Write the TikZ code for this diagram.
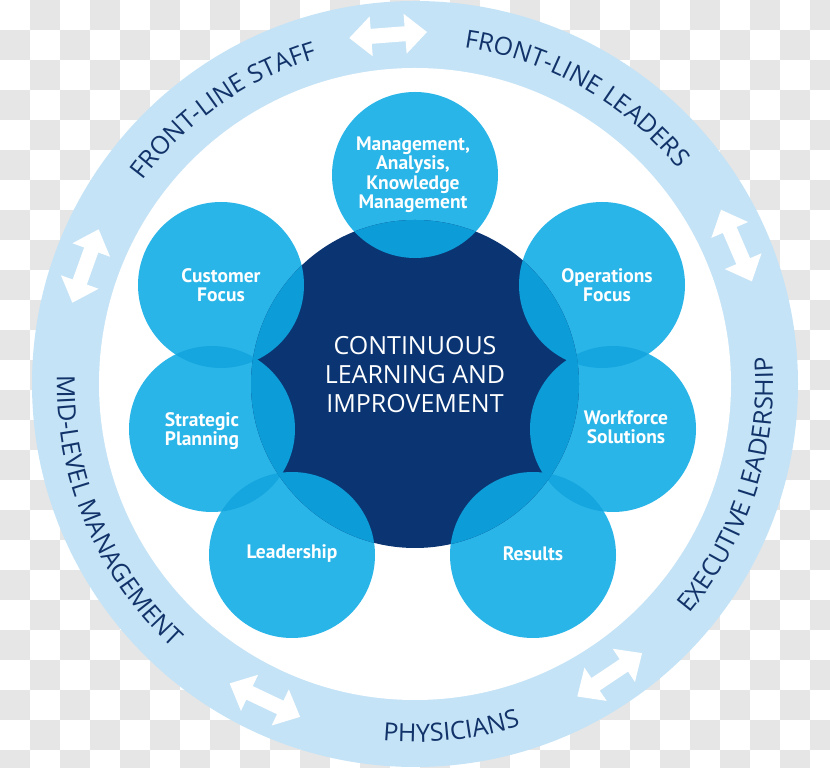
\documentclass[tikz,border=0pt]{standalone}
\usepackage{fontspec}
\setmainfont{Open Sans}
\newfontfamily\satfont{PT Sans}
\usetikzlibrary{decorations.text}
\definecolor{ringblue}{HTML}{C4E3F6}
\definecolor{satcyan}{HTML}{2AB5E8}
\definecolor{satlens}{HTML}{15A6E0}
\definecolor{hubdark}{HTML}{0B3572}
\definecolor{hublens}{HTML}{0C9CD8}
\definecolor{ringtext}{HTML}{12336A}
\definecolor{checkgray}{HTML}{E6E6E6}

\begin{document}
\begin{tikzpicture}[x=1pt,y=1pt,
lbl/.style={text=white,align=center,font=\satfont\bfseries\fontsize{19.5}{19.5}\selectfont},
hubtxt/.style={text=white,align=center,font=\fontsize{25}{29}\selectfont},
ringtxt/.style={decorate,decoration={text along path,text align=center,
  text={|\fontsize{25}{25}\selectfont\color{ringtext}|#1}}},
dblarrow/.pic={\fill[white] (-39,0)--(-17,20)--(-17,7.5)--(17,7.5)--(17,20)--(39,0)
  --(17,-20)--(17,-7.5)--(-17,-7.5)--(-17,-20)--cycle;}]
\useasboundingbox (0,0) rectangle (830,768);
% transparent backdrop
\begin{scope}
\clip (0,0) rectangle (830,768);
\foreach \i in {0,...,27}
  \foreach \j in {0,...,25}{
    \pgfmathtruncatemacro\odd{mod(\i+\j,2)}
    \ifnum\odd=1 \fill[checkgray] (30*\i,768-30*\j) rectangle ++(30,-30);\fi}
\end{scope}
% outer ring
\coordinate (hub) at (415,384);
\fill[ringblue] (hub) circle (383);
\fill[white] (hub) circle (316);
% circles
\coordinate (mgmt) at (415,593);
\coordinate (cust) at (221,483);
\coordinate (ops) at (602,483);
\coordinate (strat) at (212,339);
\coordinate (work) at (613,339);
\coordinate (lead) at (292,213);
\coordinate (res) at (533,213);
\foreach \c in {mgmt,cust,ops,strat,work,lead,res}
  \fill[satcyan] (\c) circle (83);
\foreach \a/\b in {cust/strat,strat/lead,ops/work,work/res}{
  \begin{scope}\clip (\a) circle (83);\fill[satlens] (\b) circle (83);\end{scope}}
\fill[hubdark] (hub) circle (164);
\foreach \c in {mgmt,cust,ops,strat,work,lead,res}{
  \begin{scope}\clip (hub) circle (164);\fill[hublens] (\c) circle (83);\end{scope}}
% arrows in the ring
\foreach \ang in {94.4,23.3,-56.2,-115.4,160.3}
  \path (hub) ++(\ang:350) pic[rotate=\ang-90] {dblarrow};
% ring labels
\path[ringtxt={FRONT-LINE STAFF}] (hub) ++(160:340) arc[start angle=160,end angle=90,radius=340];
\path[ringtxt={FRONT-LINE LEADERS}] (hub) ++(95.5:340) arc[start angle=95.5,end angle=25.5,radius=340];
\path[ringtxt={EXECUTIVE LEADERSHIP}] (hub) ++(-57.8:358) arc[start angle=-57.8,end angle=22.2,radius=358];
\path[ringtxt={PHYSICIANS}] (hub) ++(-114:358) arc[start angle=-114,end angle=-54,radius=358];
\path[ringtxt={MID-LEVEL MANAGEMENT}] (hub) ++(163:358) arc[start angle=163,end angle=243,radius=358];
% circle labels
\node[hubtxt] (hublbl) at (415,393) {CONTINUOUS\\LEARNING AND\\IMPROVEMENT};
\node[lbl] (mgmtlbl) at (413,593) {Management,\\Analysis,\\Knowledge\\Management};
\node[lbl] (custlbl) at (221,483) {Customer\\Focus};
\node[lbl] (opslbl) at (607,483) {Operations\\Focus};
\node[lbl] (stratlbl) at (202,337) {Strategic\\Planning};
\node[lbl] (worklbl) at (626,341) {Workforce\\Solutions};
\node[lbl] (leadlbl) at (292,214) {Leadership};
\node[lbl] (reslbl) at (533,214) {Results};
\end{tikzpicture}
\end{document}
